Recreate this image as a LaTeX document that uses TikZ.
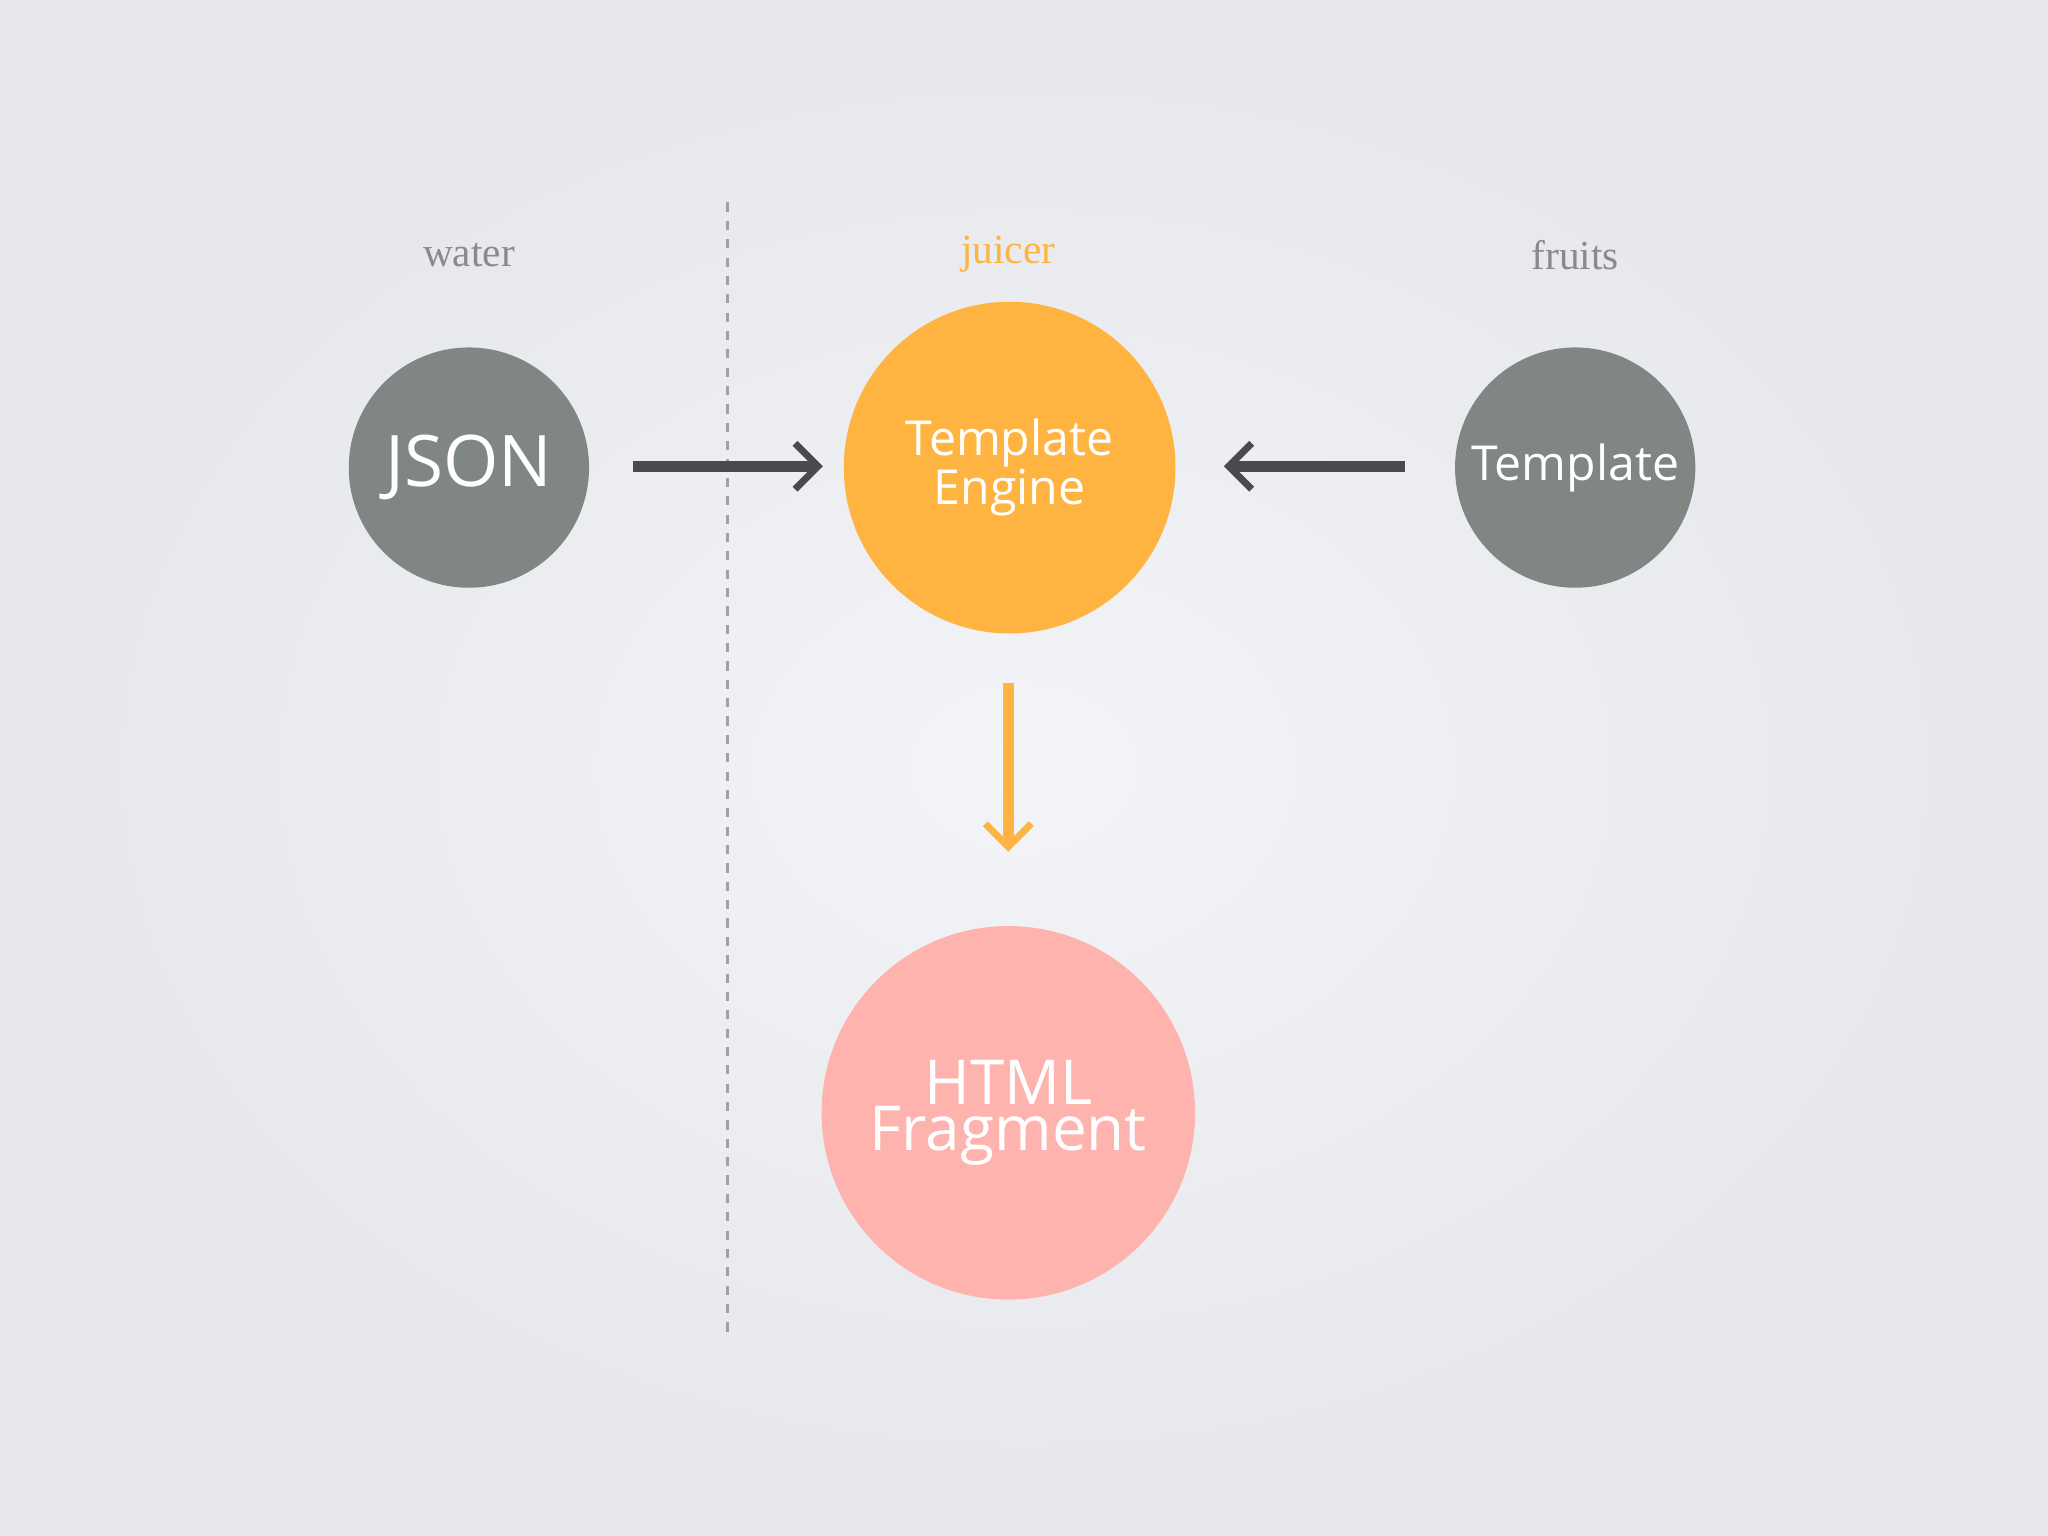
\documentclass[tikz,border=0pt]{standalone}
\usepackage{fontspec}
\setmainfont{Open Sans}
\newfontfamily\labfont{Liberation Serif}
\usetikzlibrary{arrows.meta}
\definecolor{bgc}{HTML}{E6E7EC}
\definecolor{bgl}{HTML}{F3F4F7}
\definecolor{greyc}{HTML}{808683}
\definecolor{orangec}{HTML}{FFB340}
\definecolor{pinkc}{HTML}{FFB3AE}
\definecolor{labgrey}{HTML}{8A8A8A}
\definecolor{arrowc}{HTML}{4A4A4C}
\begin{document}
\begin{tikzpicture}[x=0.02cm,y=-0.02cm,
  circ/.style={circle,inner sep=0pt,text=white,align=center},
  lab/.style={font=\labfont\fontsize{18}{18}\selectfont},
  arr/.style={line width=5pt,-{Straight Barb[length=10pt,width=20pt,line width=3pt]}}]
\shade[inner color=bgl,outer color=bgc] (0,0) rectangle (1568,1176);
\useasboundingbox (0,0) rectangle (1568,1176);
\coordinate (dt) at (557,155);
\coordinate (db) at (557,1022);
\draw[labgrey!80,line width=1.5pt,dash pattern=on 4pt off 4pt] (dt) -- (db);
\node[lab,text=labgrey] (wl) at (359,195) {water};
\node[lab,text=orangec] (jl) at (772,195) {juicer};
\node[lab,text=labgrey] (fl) at (1206,195) {fruits};
\node[circ,fill=greyc,minimum size=3.68cm,font=\fontsize{31}{31}\selectfont] (json) at (359,358) {JSON};
\node[circ,fill=orangec,minimum size=5.08cm,font=\fontsize{21}{11}\selectfont] (te) at (773,358) {Template\\Engine};
\node[circ,fill=greyc,minimum size=3.68cm,font=\fontsize{21}{21}\selectfont] (tp) at (1206,358) {Template};
\node[circ,fill=pinkc,minimum size=5.72cm,font=\fontsize{27}{16}\selectfont] (html) at (772,852) {HTML\\Fragment};
\coordinate (a1s) at (485,357);
\coordinate (a1e) at (630,357);
\coordinate (a2s) at (1076,357);
\coordinate (a2e) at (937,357);
\coordinate (a3s) at (772,523);
\coordinate (a3e) at (772,652);
\draw[arr,arrowc] (a1s) -- (a1e);
\draw[arr,arrowc] (a2s) -- (a2e);
\draw[arr,orangec] (a3s) -- (a3e);
\end{tikzpicture}
\end{document}
